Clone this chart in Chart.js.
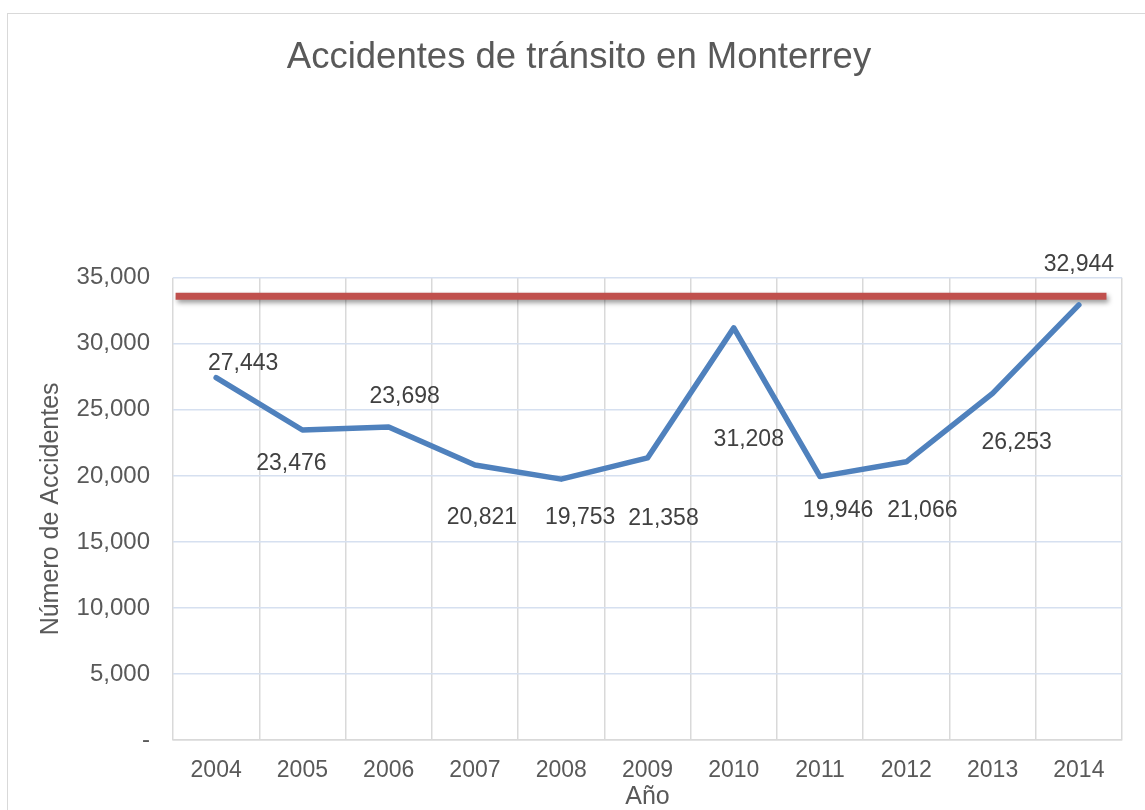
<!DOCTYPE html>
<html>
<head>
<meta charset="utf-8">
<script src="https://cdn.jsdelivr.net/npm/chart.js@4/dist/chart.umd.min.js"></script>
<style>
    html, body { margin: 0; padding: 0; background: #fff; overflow: hidden; }
    #frame { position: absolute; left: 7px; top: 13px; width: 1160px; height: 820px; border: 1px solid #d9d9d9; }
    #chart { position: absolute; left: 0; top: 0; }
</style>
</head>
<body>
<div id="frame"></div>
<canvas id="chart" width="1145" height="810"></canvas>
<script>
// Chart data
var years = ['2004', '2005', '2006', '2007', '2008', '2009', '2010', '2011', '2012', '2013', '2014'];
var accidents = [27443, 23476, 23698, 20821, 19753, 21358, 31208, 19946, 21066, 26253, 32944];
var limitValue = 33600;
var limitSpan = [0.03, 10.82];
var yTicks = [0, 5000, 10000, 15000, 20000, 25000, 30000, 35000];

// where each data label sits relative to its point (px)
var labelOffsets = [
    [27, -14], [-11, 34], [16, -30], [7, 53], [19, 39], [16, 61],
    [15, 112], [18, 34], [16, 49], [24, 49], [0, -40]
];

function fmt(v) {
    if (v === 0)
        return '-';
    return v.toLocaleString('en-US');
}

/**
 * Draw the value labels next to the blue line points
 */
var valueLabels = {
    id: 'valueLabels',
    afterDatasetsDraw: function (chart) {
        let ctx = chart.ctx;
        let meta = chart.getDatasetMeta(0);
        ctx.save();
        ctx.font = '23px "Liberation Sans", Arial, sans-serif';
        ctx.fillStyle = '#404040';
        ctx.textAlign = 'center';
        ctx.textBaseline = 'middle';
        meta.data.forEach(function (pt, i) {
            let off = labelOffsets[i];
            ctx.fillText(fmt(accidents[i]), pt.x + off[0], pt.y + off[1]);
        });
        ctx.restore();
    }
};

/**
 * Soft shadow under the red limit line
 */
var lineShadow = {
    id: 'lineShadow',
    beforeDatasetDraw: function (chart, args) {
        if (args.index !== 1)
            return;
        let ctx = chart.ctx;
        ctx.save();
        ctx.shadowColor = 'rgba(0,0,0,0.4)';
        ctx.shadowBlur = 5;
        ctx.shadowOffsetX = 2;
        ctx.shadowOffsetY = 3;
    },
    afterDatasetDraw: function (chart, args) {
        if (args.index !== 1)
            return;
        chart.ctx.restore();
    }
};

var fontFamily = '"Liberation Sans", Arial, sans-serif';

var ctx = document.getElementById('chart');
new Chart(ctx, {
    type: 'line',
    data: {
        labels: years,
        datasets: [{
            data: accidents,
            borderColor: '#4f81bd',
            borderWidth: 5.5,
            borderCapStyle: 'round',
            borderJoinStyle: 'round',
            pointRadius: 0,
            tension: 0,
            xAxisID: 'x'
        }, {
            data: [{ x: limitSpan[0], y: limitValue }, { x: limitSpan[1], y: limitValue }],
            borderColor: '#c0504d',
            borderWidth: 7,
            pointRadius: 0,
            xAxisID: 'x2'
        }]
    },
    options: {
        responsive: false,
        animation: false,
        devicePixelRatio: 1,
        layout: { padding: { left: 36, right: 23, top: 0, bottom: 0 } },
        plugins: {
            legend: { display: false },
            tooltip: { enabled: false },
            title: {
                display: true,
                text: 'Accidentes de tránsito en Monterrey',
                color: '#595959',
                font: { family: fontFamily, size: 36.5, weight: 'normal' },
                padding: { top: 36, bottom: 198 }
            }
        },
        scales: {
            x: {
                type: 'category',
                offset: true,
                grid: { offset: true, color: '#d9d9d9', lineWidth: 1.5, drawTicks: false },
                border: { color: '#d9d9d9', width: 1.5 },
                ticks: {
                    color: '#595959',
                    padding: 17,
                    font: { family: fontFamily, size: 23 }
                },
                title: {
                    display: true,
                    text: 'Año',
                    color: '#595959',
                    padding: { top: 0, bottom: 0 },
                    font: { family: fontFamily, size: 25, lineHeight: 1 }
                },
                afterFit: function (scale) { scale.height = 70; }
            },
            x2: {
                type: 'linear',
                display: false,
                min: 0,
                max: years.length
            },
            y: {
                min: 0,
                max: 35000,
                afterBuildTicks: function (scale) {
                    scale.ticks = yTicks.map(v => ({ value: v }));
                },
                grid: {
                    color: function (c) { return c.tick && c.tick.value === 0 ? '#d9d9d9' : '#d6e0f0'; },
                    lineWidth: 1.5,
                    drawTicks: false
                },
                border: { display: false },
                ticks: {
                    color: '#595959',
                    padding: 23,
                    font: { family: fontFamily, size: 24 },
                    callback: function (v) { return fmt(v); }
                },
                title: {
                    display: true,
                    text: 'Número de Accidentes',
                    color: '#595959',
                    padding: { top: 0, bottom: 0 },
                    font: { family: fontFamily, size: 25 }
                },
                afterFit: function (scale) { scale.width = 137; }
            }
        }
    },
    plugins: [valueLabels, lineShadow]
});
</script>
</body>
</html>
